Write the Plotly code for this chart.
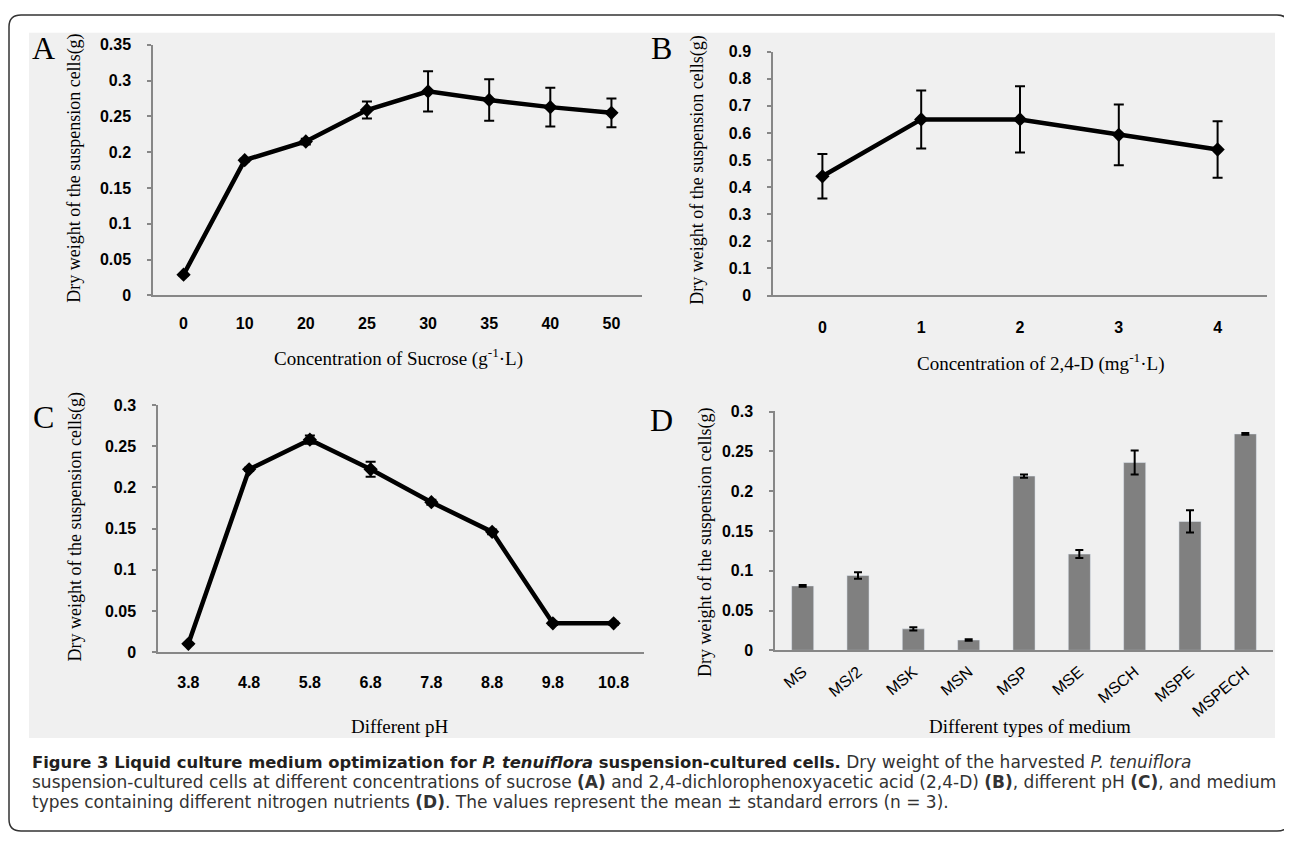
import plotly.graph_objects as go

# page is offset by the browser's default 8px body margin
OFF = 8
W, H = 1292 - OFF, 844 - OFF

# ---------------- data ----------------
# Panel A: sucrose
sucrose_conc = ["0", "10", "20", "25", "30", "35", "40", "50"]
sucrose_dw = [0.029, 0.189, 0.215, 0.259, 0.285, 0.273, 0.263, 0.255]
sucrose_err = [0.001, 0.002, 0.004, 0.012, 0.028, 0.029, 0.027, 0.020]

# Panel B: 2,4-D
d24_conc = ["0", "1", "2", "3", "4"]
d24_dw = [0.440, 0.650, 0.650, 0.593, 0.539]
d24_err = [0.082, 0.107, 0.122, 0.112, 0.104]

# Panel C: pH
ph_values = ["3.8", "4.8", "5.8", "6.8", "7.8", "8.8", "9.8", "10.8"]
ph_dw = [0.010, 0.222, 0.258, 0.222, 0.182, 0.146, 0.035, 0.035]
ph_err = [0.001, 0.002, 0.005, 0.009, 0.003, 0.003, 0.002, 0.002]

# Panel D: medium types
medium = ["MS", "MS/2", "MSK", "MSN", "MSP", "MSE", "MSCH", "MSPE", "MSPECH"]
medium_dw = [0.081, 0.094, 0.027, 0.013, 0.219, 0.121, 0.236, 0.162, 0.272]
medium_err = [0.001, 0.004, 0.002, 0.001, 0.002, 0.005, 0.015, 0.014, 0.001]

y_title = "Dry weight of the suspension cells(g)"

# ---------------- helpers (page pixel -> paper) ----------------
def px(x):
    return (x - OFF) / W

def py(y):
    return 1 - (y - OFF) / H

def xdom(a, b):
    return [px(a), px(b)]

def ydom(top, bottom):
    return [py(bottom), py(top)]

SERIF = "Liberation Serif, Times New Roman, serif"
SANS = "Liberation Sans, Arial, sans-serif"
AXCOL = "#878787"
BG = "#f0f0f0"

fig = go.Figure()

line_style = dict(color="black", width=4.5)
marker_style = dict(symbol="diamond", size=11, color="black")
err_style = dict(type="data", thickness=2, width=5, color="black", visible=True)

fig.add_trace(go.Scatter(x=sucrose_conc, y=sucrose_dw, mode="lines+markers",
                         line=line_style, marker=marker_style,
                         error_y=dict(array=sucrose_err, **err_style),
                         xaxis="x", yaxis="y", showlegend=False))
fig.add_trace(go.Scatter(x=d24_conc, y=d24_dw, mode="lines+markers",
                         line=line_style, marker=marker_style,
                         error_y=dict(array=d24_err, **err_style),
                         xaxis="x2", yaxis="y2", showlegend=False))
fig.add_trace(go.Scatter(x=ph_values, y=ph_dw, mode="lines+markers",
                         line=line_style, marker=marker_style,
                         error_y=dict(array=ph_err, **err_style),
                         xaxis="x3", yaxis="y3", showlegend=False))
fig.add_trace(go.Bar(x=medium, y=medium_dw, marker=dict(color="#808080"),
                     error_y=dict(array=medium_err, type="data", thickness=2,
                                  width=4, color="black", visible=True),
                     xaxis="x4", yaxis="y4", showlegend=False))

tickfont_bold = dict(family=SANS, size=16, color="black", weight="bold")


def xaxis_cfg(dom, anchor, n, standoff=12, angle=0, font=None):
    return dict(domain=dom, anchor=anchor, type="category", range=[-0.5, n - 0.5],
                showline=True, linecolor=AXCOL, linewidth=2, ticks="",
                showgrid=False, zeroline=False, tickangle=angle,
                tickfont=font or dict(family=SANS, size=16, color="black", weight="bold"),
                ticklabelstandoff=standoff, fixedrange=True)


def yaxis_cfg(dom, anchor, rmax, dtick):
    return dict(domain=dom, anchor=anchor, range=[0, rmax * 1.0005], dtick=dtick,
                showline=True, linecolor=AXCOL, linewidth=1.5, ticks="outside",
                ticklen=4, tickwidth=1.5, tickcolor=AXCOL, showgrid=False,
                zeroline=False, tickfont=tickfont_bold, ticklabelstandoff=13,
                fixedrange=True)


fig.update_layout(
    width=W, height=H, margin=dict(l=0, r=0, t=0, b=0),
    paper_bgcolor="white", plot_bgcolor=BG, bargap=0.6,
    xaxis=xaxis_cfg(xdom(153, 642), "y", len(sucrose_conc)),
    yaxis=yaxis_cfg(ydom(37.3, 293.3), "x", 0.35, 0.05),
    xaxis2=xaxis_cfg(xdom(773, 1267), "y2", len(d24_conc), standoff=16),
    yaxis2=yaxis_cfg(ydom(44.3, 293.3), "x2", 0.9, 0.1),
    xaxis3=xaxis_cfg(xdom(158, 644), "y3", len(ph_values), standoff=15),
    yaxis3=yaxis_cfg(ydom(405, 657.3), "x3", 0.3, 0.05),
    xaxis4=xaxis_cfg(xdom(775, 1273), "y4", len(medium), standoff=4, angle=-40,
                     font=dict(family=SANS, size=16, color="black")),
    yaxis4=yaxis_cfg(ydom(411.7, 655.5), "x4", 0.3, 0.05),
)

# gray panel background and rounded outer frame
fig.add_shape(type="rect", xref="paper", yref="paper", layer="below",
              x0=px(29), x1=px(1275), y0=py(745), y1=py(25),
              fillcolor=BG, line=dict(width=0))

r = 12
x0, x1, y0, y1 = 9, 1289, 7, 840
path = (f"M {px(x0 + r)},{py(y0)} L {px(x1 - r)},{py(y0)} "
        f"Q {px(x1)},{py(y0)} {px(x1)},{py(y0 + r)} "
        f"L {px(x1)},{py(y1 - r)} Q {px(x1)},{py(y1)} {px(x1 - r)},{py(y1)} "
        f"L {px(x0 + r)},{py(y1)} Q {px(x0)},{py(y1)} {px(x0)},{py(y1 - r)} "
        f"L {px(x0)},{py(y0 + r)} Q {px(x0)},{py(y0)} {px(x0 + r)},{py(y0)} Z")
fig.add_shape(type="path", path=path, xref="paper", yref="paper",
              line=dict(color="#333333", width=1.5), layer="above")


def ann(text, x, y, size, family=SERIF, angle=0, xanchor="center", color="black",
        align="center"):
    fig.add_annotation(text=text, x=px(x), y=py(y), xref="paper", yref="paper",
                       showarrow=False, textangle=angle, xanchor=xanchor, align=align,
                       yanchor="middle", font=dict(family=family, size=size, color=color))


# panel letters
ann("A", 43, 41, 32)
ann("B", 661, 41, 32)
ann("C", 43, 417, 32)
ann("D", 661, 420, 32)

# y titles
ann(y_title, 75, 164, 18, angle=-90)
ann(y_title, 698, 166, 18, angle=-90)
ann(y_title, 75, 530, 18, angle=-90)
ann(y_title, 705, 546, 18, angle=-90)

# x titles
ann("Concentration of Sucrose (g<sup>-1</sup>·L)", 398, 357, 19)
ann("Concentration of 2,4-D (mg<sup>-1</sup>·L)", 1040, 362, 19)
ann("Different pH", 400, 733, 19)
ann("Different types of medium", 1030, 733, 19)

# caption (one block, three lines; block font sets the 20px line pitch)
CAP = "DejaVu Sans, Verdana, sans-serif"
REG = "<span style='font-size:17px'>{}</span>"
cap1 = ("<span style='font-size:16.4px;color:#231f20'><b>Figure 3 Liquid culture medium "
        "optimization for <i>P. tenuiflora</i> suspension-cultured cells.</b></span>"
        + REG.format(" Dry weight of the harvested <i>P. tenuiflora</i>"))
cap2 = REG.format("suspension-cultured cells at different concentrations of sucrose <b>(A)</b> and "
                  "2,4-dichlorophenoxyacetic acid (2,4-D) <b>(B)</b>, different pH <b>(C)</b>, "
                  "and medium")
cap3 = REG.format("types containing different nitrogen nutrients <b>(D)</b>. The values represent "
                  "the mean ± standard errors (n = 3).")
ann(cap1 + "<br>" + cap2 + "<br>" + cap3, 30, 790, 15.4, family=CAP, xanchor="left",
    color="#333333", align="left")

fig.write_html("out.html")
